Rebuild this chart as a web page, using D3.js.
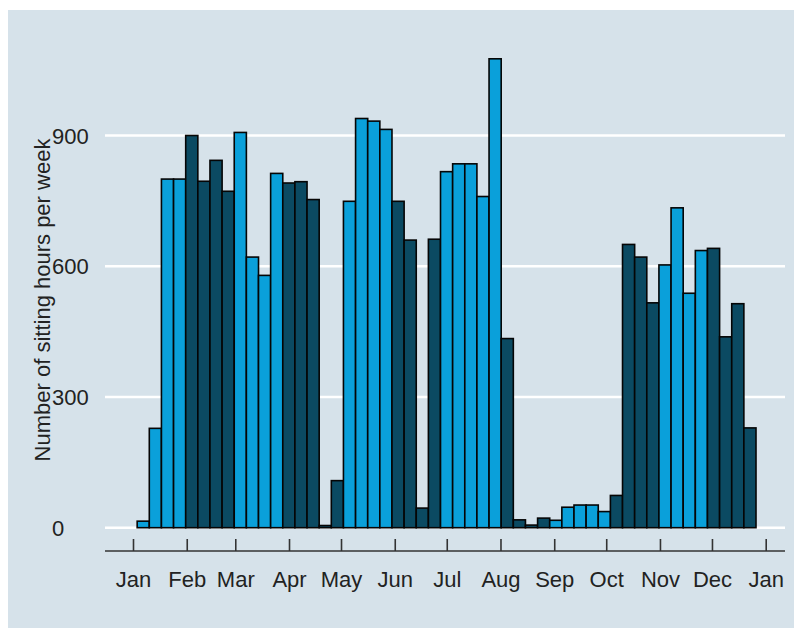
<!DOCTYPE html>
<html>
<head>
<meta charset="utf-8">
<script src="https://cdn.jsdelivr.net/npm/d3@7"></script>
<style>
  html, body { margin: 0; padding: 0; background: #ffffff; }
  svg { display: block; }
  text { font-family: "Liberation Sans", Arial, sans-serif; fill: #222222; }
</style>
</head>
<body>
<script>
// week start dates (one bar per week)
var weeks = [
  '2019-01-03','2019-01-10','2019-01-17','2019-01-24','2019-01-31',
  '2019-02-07','2019-02-14','2019-02-21','2019-02-28','2019-03-07',
  '2019-03-14','2019-03-21','2019-03-28','2019-04-04','2019-04-11',
  '2019-04-18','2019-04-25','2019-05-02','2019-05-09','2019-05-16',
  '2019-05-23','2019-05-30','2019-06-06','2019-06-13','2019-06-20',
  '2019-06-27','2019-07-04','2019-07-11','2019-07-18','2019-07-25',
  '2019-08-01','2019-08-08','2019-08-15','2019-08-22','2019-08-29',
  '2019-09-05','2019-09-12','2019-09-19','2019-09-26','2019-10-03',
  '2019-10-10','2019-10-17','2019-10-24','2019-10-31','2019-11-07',
  '2019-11-14','2019-11-21','2019-11-28','2019-12-05','2019-12-12',
  '2019-12-19'
];

// sitting hours per week
var hours = [
  15, 228, 800, 800, 900, 795, 843, 772, 907, 621,
  579, 813, 791, 794, 753, 5, 108, 749, 939, 933,
  914, 749, 660, 45, 662, 817, 835, 835, 760, 1076,
  434, 18, 6, 22, 17, 47, 52, 52, 37, 74,
  650, 621, 516, 603, 734, 538, 636, 641, 438, 514,
  229
];

// month each bar is shaded by (0 = Jan ... 11 = Dec)
var barMonth = [
  0, 0, 0, 0, 1, 1, 1, 1, 2, 2,
  2, 2, 3, 3, 3, 3, 3, 4, 4, 4,
  4, 5, 5, 5, 5, 6, 6, 6, 6, 6,
  7, 7, 7, 7, 8, 8, 8, 8, 8, 9,
  9, 9, 9, 10, 10, 10, 10, 11, 11, 11,
  11
];

var yTicks = [0, 300, 600, 900];
var monthLabels = ['Jan','Feb','Mar','Apr','May','Jun','Jul','Aug','Sep','Oct','Nov','Dec','Jan'];
var yTitle = 'Number of sitting hours per week';

var W = 794, H = 628;
var colors = ['#0aa0da', '#0b4a62'];
var parse = d3.timeParse('%Y-%m-%d');

var svg = d3.select('body').append('svg')
    .attr('width', W)
    .attr('height', H);

svg.append('rect')
    .attr('x', 8).attr('y', 10)
    .attr('width', W - 8).attr('height', H - 10)
    .attr('fill', '#d6e2ea');

var x = d3.scaleTime()
    .domain([new Date(2019, 0, 1), new Date(2020, 0, 1)])
    .range([133, 765.7]);

var y = d3.scaleLinear()
    .domain([0, 900])
    .range([527.7, 135.5]);

// gridlines
svg.append('g')
    .selectAll('line')
    .data(yTicks)
    .enter().append('line')
    .attr('x1', 105).attr('x2', 785)
    .attr('y1', function(d) { return y(d) })
    .attr('y2', function(d) { return y(d) })
    .attr('stroke', '#ffffff')
    .attr('stroke-width', 2.6);

// y tick labels
svg.append('g')
    .selectAll('text')
    .data(yTicks)
    .enter().append('text')
    .attr('x', 52)
    .attr('y', function(d) { return y(d) + 8 })
    .style('font-size', '22px')
    .text(function(d) { return d });

// bars
svg.append('g')
    .selectAll('rect')
    .data(hours)
    .enter().append('rect')
    .attr('x', function(d, i) { return x(parse(weeks[i])) + 0.7 })
    .attr('width', function(d, i) {
        var s = parse(weeks[i]);
        return x(d3.timeDay.offset(s, 7)) - x(s)
    })
    .attr('y', function(d) { return y(d) })
    .attr('height', function(d) { return y(0) - y(d) })
    .attr('fill', function(d, i) { return colors[barMonth[i] % 2] })
    .attr('stroke', '#050505')
    .attr('stroke-width', 1.6);

// x axis
var monthTicks = d3.timeMonth.range(new Date(2019, 0, 1), new Date(2020, 0, 2));
var xAxis = d3.axisBottom(x)
    .tickValues(monthTicks)
    .tickSize(-12)
    .tickPadding(36)
    .tickFormat(function(d, i) { return monthLabels[i] });

var gx = svg.append('g')
    .attr('transform', 'translate(0,551)')
    .call(xAxis);
gx.select('.domain').remove();
gx.append('line')
    .attr('x1', 105).attr('x2', 785)
    .attr('stroke', '#333333')
    .attr('stroke-width', 1.6);
gx.selectAll('.tick line')
    .attr('stroke', '#333333')
    .attr('stroke-width', 1.6);
gx.selectAll('.tick text')
    .attr('fill', '#222222')
    .style('font-family', '"Liberation Sans", Arial, sans-serif')
    .style('font-size', '22px')
    .attr('dy', null)
    .attr('y', 36);

// y axis title
svg.append('text')
    .attr('transform', 'translate(50,300) rotate(-90)')
    .attr('text-anchor', 'middle')
    .style('font-size', '22px')
    .text(yTitle);
</script>
</body>
</html>
